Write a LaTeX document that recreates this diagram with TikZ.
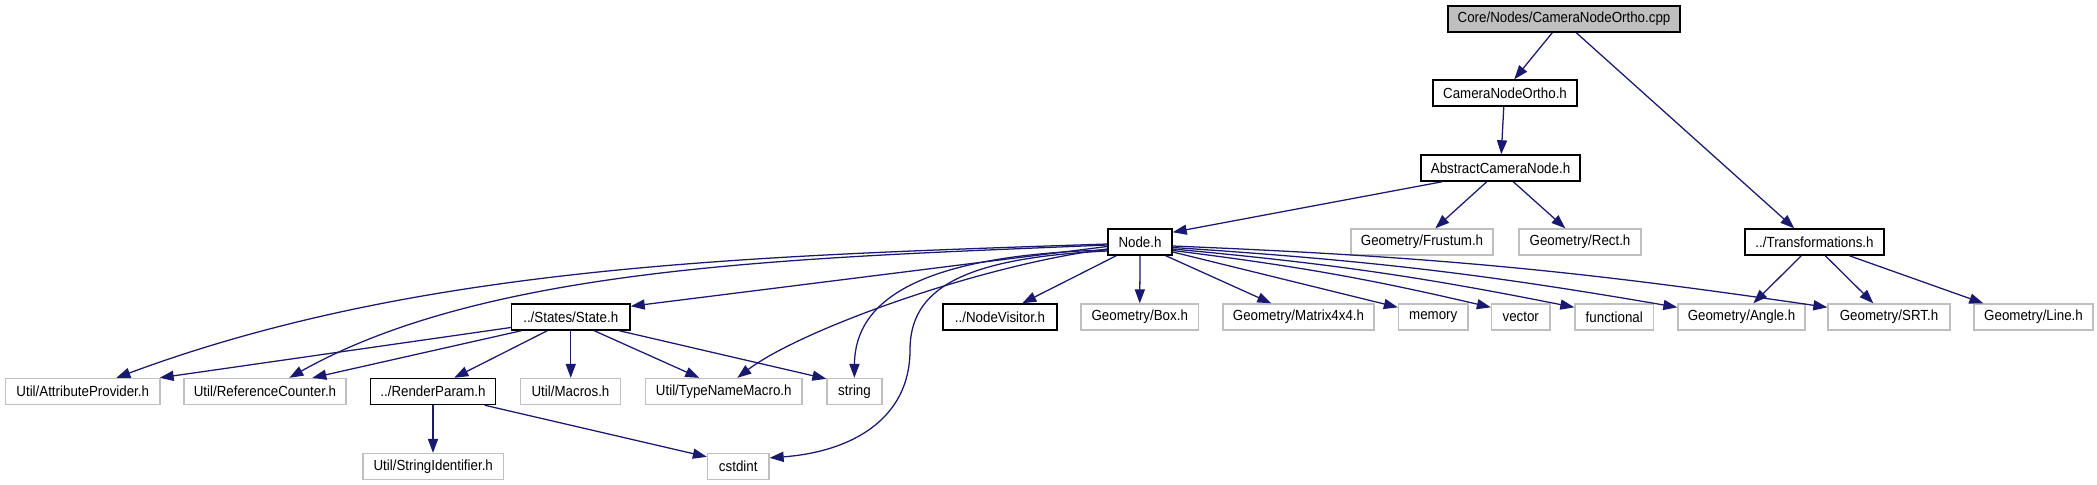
\documentclass[tikz,border=0pt]{standalone}
\usepackage{fontspec}
\usepackage{graphicx}
\setmainfont{Liberation Sans}
\usetikzlibrary{arrows.meta,calc}
\definecolor{edgeblue}{HTML}{191970}
\definecolor{greyb}{HTML}{BFBFBF}
\newcommand{\tallt}[1]{\scalebox{1}[1.1]{#1}}
\begin{document}
\begin{tikzpicture}[x=0.75pt,y=-0.75pt,
  box/.style={rectangle, inner sep=0pt, minimum height=19.5pt, font=\fontsize{10}{12}\selectfont},
  doc/.style={box, draw=black, fill=white, line width=1.1pt},
  undoc/.style={box, draw=greyb, fill=white, line width=1pt},
  wd/.style={minimum width=#1*0.75pt},
  edge/.style={draw=edgeblue, line width=0.95pt, -{Triangle[length=10.5pt,width=7.6pt]}}]
\fill[white] (0,0) rectangle (2097,485);
\useasboundingbox (0,0) rectangle (2097,485);
% rank 0
\node[box, draw=black, fill=greyb, line width=1.1pt, wd=232] (core) at (1564,19) {\tallt{Core/Nodes/CameraNodeOrtho.cpp}};
% rank 1
\node[doc, wd=144] (cno) at (1505,93) {\tallt{CameraNodeOrtho.h}};
% rank 2
\node[doc, wd=159] (acn) at (1500.5,168) {\tallt{AbstractCameraNode.h}};
% rank 3
\node[doc, wd=64] (nodeh) at (1140,242) {\tallt{Node.h}};
\node[undoc, wd=142] (frustum) at (1422,242) {\tallt{Geometry/Frustum.h}};
\node[undoc, wd=122] (rect) at (1580,242) {\tallt{Geometry/Rect.h}};
\node[doc, wd=139] (trans) at (1814.5,242) {\tallt{../Transformations.h}};
% rank 4
\node[doc, wd=118.5] (state) at (570.75,317) {\tallt{../States/State.h}};
\node[doc, wd=114] (visitor) at (1000,317) {\tallt{../NodeVisitor.h}};
\node[undoc, wd=117.5] (boxh) at (1139.75,317) {\tallt{Geometry/Box.h}};
\node[undoc, wd=151] (matrix) at (1298.5,317) {\tallt{Geometry/Matrix4x4.h}};
\node[undoc, wd=69.5] (memory) at (1433.25,317) {\tallt{memory}};
\node[undoc, wd=58.5] (vector) at (1520.75,317) {\tallt{vector}};
\node[undoc, wd=78.5] (functional) at (1614.25,317) {\tallt{functional}};
\node[undoc, wd=127] (angle) at (1741.5,317) {\tallt{Geometry/Angle.h}};
\node[undoc, wd=122] (srt) at (1889,317) {\tallt{Geometry/SRT.h}};
\node[undoc, wd=119] (lineh) at (2033.5,317) {\tallt{Geometry/Line.h}};
% rank 5
\node[undoc, wd=154.5] (attr) at (82.75,391.5) {\tallt{Util/AttributeProvider.h}};
\node[undoc, wd=162] (refc) at (265,391.5) {\tallt{Util/ReferenceCounter.h}};
\node[doc, wd=125] (render) at (433,391.5) {\tallt{../RenderParam.h}};
\node[undoc, wd=100] (macros) at (570.5,391.5) {\tallt{Util/Macros.h}};
\node[undoc, wd=156.5] (tnm) at (723.75,391.5) {\tallt{Util/TypeNameMacro.h}};
\node[undoc, wd=55] (string) at (854.5,391.5) {\tallt{string}};
% rank 6
\node[undoc, wd=140.5] (strid) at (433.25,466.5) {\tallt{Util/StringIdentifier.h}};
\node[undoc, wd=61.5] (cstdint) at (738.25,466.5) {\tallt{cstdint}};

% edges from the .cpp
\draw[edge] ($(core.south west)+(105,0)$) -- ($(cno.north west)+(82,0)$);
\draw[edge] ($(core.south west)+(129,0)$) -- ($(trans.north west)+(50,0)$);
\draw[edge] ($(cno.south west)+(71.5,0)$) -- ($(acn.north west)+(81,0)$);
% AbstractCameraNode.h
\draw[edge] ($(acn.south west)+(22,0)$) -- ($(nodeh.north east)+(0,4)$);
\draw[edge] ($(acn.south west)+(66.5,0)$) -- ($(frustum.north west)+(85,0)$);
\draw[edge] ($(acn.south west)+(93,0)$) -- ($(rect.north west)+(47,0)$);
% Node.h, to the left
\draw[edge] ($(nodeh.west)+(0,2)$) .. controls (750,256) and (420,265) .. ($(attr.north west)+(111.5,0)$);
\draw[edge] ($(nodeh.west)+(0,3)$) .. controls (800,258) and (490,265) .. ($(refc.north west)+(106,0)$);
\draw[edge] ($(nodeh.west)+(0,4.5)$) -- ($(state.north east)+(0,3)$);
\draw[edge] ($(nodeh.west)+(0,7)$) .. controls (980,265) and (800,330) .. ($(tnm.north west)+(92.5,0)$);
\draw[edge] ($(nodeh.west)+(0,8)$) .. controls (920,255) and (855,300) .. ($(string.north west)+(28,0)$);
\draw[edge] ($(nodeh.west)+(0,9)$) .. controls (960,258) and (910,290) .. (910,350)
  .. controls (910,420) and (850,452) .. ($(cstdint.north east)+(0,5)$);
% Node.h, downwards and to the right
\draw[edge] ($(nodeh.south west)+(9,0)$) -- ($(visitor.north west)+(80,0)$);
\draw[edge] (nodeh.south) -- (boxh.north);
\draw[edge] ($(nodeh.south east)+(-7,0)$) -- ($(matrix.north west)+(49,0)$);
\draw[edge] ($(nodeh.east)+(0,10)$) -- ($(memory.north west)+(0,4)$);
\draw[edge] ($(nodeh.east)+(0,8.5)$) to[bend left=3] ($(vector.north west)+(0,4)$);
\draw[edge] ($(nodeh.east)+(0,7)$) to[bend left=3] ($(functional.north west)+(0,4)$);
\draw[edge] ($(nodeh.east)+(0,5.5)$) to[bend left=3] ($(angle.north west)+(0,4)$);
\draw[edge] ($(nodeh.east)+(0,4)$) to[bend left=3] ($(srt.north west)+(0,4)$);
% ../States/State.h
\draw[edge] ($(state.west)+(0,10.5)$) -- ($(attr.north east)+(-1,0)$);
\draw[edge] ($(state.south west)+(10.5,0)$) -- ($(refc.north west)+(129,0)$);
\draw[edge] ($(state.south west)+(36.5,0)$) -- ($(render.north west)+(84.5,0)$);
\draw[edge] (state.south) -- (state.south |- macros.north);
\draw[edge] ($(state.south west)+(83.5,0)$) -- ($(tnm.north west)+(54.5,0)$);
\draw[edge] ($(state.south west)+(108.5,0)$) -- ($(string.north west)+(0,1)$);
% ../RenderParam.h
\draw[edge] (render.south) -- (render.south |- strid.north);
\draw[edge] ($(render.south east)+(-11.5,0)$) -- ($(cstdint.north west)+(0,4)$);
% ../Transformations.h
\draw[edge] ($(trans.south west)+(57,0)$) -- ($(angle.north west)+(76,0)$);
\draw[edge] ($(trans.south west)+(81,0)$) -- ($(srt.north west)+(46,0)$);
\draw[edge] ($(trans.south west)+(105,0)$) -- ($(lineh.north west)+(10,0)$);
\end{tikzpicture}
\end{document}
